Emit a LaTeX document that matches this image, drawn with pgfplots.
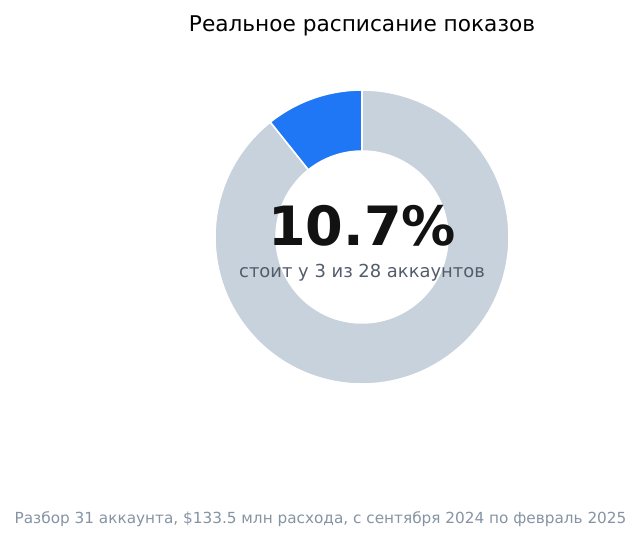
\documentclass[border=0pt]{standalone}
\usepackage{pgfplots}
\pgfplotsset{compat=1.18}
\usepackage{pgfplotstable}
\usepackage{fontspec}
\setmainfont{DejaVu Sans}
\usetikzlibrary{calc}

\definecolor{hit}{HTML}{1F77F5}
\definecolor{rest}{HTML}{C8D2DC}
\definecolor{subgray}{HTML}{525C6A}
\definecolor{footgray}{HTML}{8593A3}

% accounts: with real schedule / without
\pgfplotstableread{
label count
yes 3
no 25
}\shares

\begin{document}
\begin{tikzpicture}
\pgfplotstablegetelem{0}{count}\of\shares \let\yes\pgfplotsretval
\pgfplotstablegetelem{1}{count}\of\shares \let\no\pgfplotsretval
\pgfmathsetmacro{\aend}{90+360*\yes/(\yes+\no)}
\def\Rout{105.84pt}
\def\Rin{61.9pt}
\begin{axis}[
        width=461.52pt, height=389.52pt,
        scale only axis,
        xmin=0, xmax=641, ymin=0, ymax=541,
        hide axis,
        clip=false,
    ]
\path (axis cs:0,0) rectangle (axis cs:641,541);
\coordinate (c) at (axis cs:362,304);
% grey part
\fill[rest, draw=white, line width=1.1pt] ($(c)+(\aend:\Rout)$) arc[start angle=\aend, end angle=450, radius=\Rout]
    -- ($(c)+(450:\Rin)$) arc[start angle=450, end angle=\aend, radius=\Rin] -- cycle;
% blue part
\fill[hit, draw=white, line width=1.1pt] ($(c)+(90:\Rout)$) arc[start angle=90, end angle=\aend, radius=\Rout]
    -- ($(c)+(\aend:\Rin)$) arc[start angle=\aend, end angle=90, radius=\Rin] -- cycle;

\node[anchor=base, font=\fontsize{15.6}{18}\selectfont] at (axis cs:362,510) {Реальное расписание показов};
\node[anchor=base, font=\fontsize{39}{45}\selectfont\bfseries, text=black!93] at (axis cs:362,296) {10.7\%};
\node[anchor=base, font=\fontsize{12.9}{15}\selectfont, text=subgray] at (axis cs:362,264) {стоит у 3 из 28 аккаунтов};
\node[anchor=base, font=\fontsize{11}{13}\selectfont, text=footgray] at (axis cs:320.5,18) {Разбор 31 аккаунта, \$133.5 млн расхода, с сентября 2024 по февраль 2025};
\end{axis}
\end{tikzpicture}
\end{document}
